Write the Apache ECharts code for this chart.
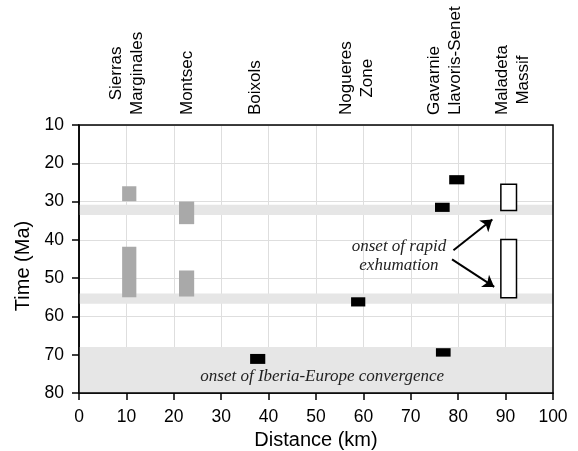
<!DOCTYPE html>
<html>
<head>
<meta charset="utf-8">
<script src="https://cdn.jsdelivr.net/npm/echarts@6/dist/echarts.min.js"></script>
<style>
html, body { margin: 0; padding: 0; background: #fff; }
#chart { width: 578px; height: 451px; }
</style>
</head>
<body>
<div id="chart"></div>
<script>
// axis ticks
var distTicks = [0, 10, 20, 30, 40, 50, 60, 70, 80, 90, 100];
var timeTicks = [10, 20, 30, 40, 50, 60, 70, 80];

// grey horizontal bands, [Ma from, Ma to]
var bands = [[30.8, 33.5], [54, 56.7], [68, 80]];

// blocks: [km from, km to, Ma from, Ma to]
var greyBlocks = [
  [9.1, 12.1, 26, 29.9],
  [9.1, 12.1, 41.8, 55],
  [21.1, 24.3, 30, 35.9],
  [21.1, 24.3, 48, 54.8]
];
var blackBlocks = [
  [36.1, 39.3, 69.8, 72.4],
  [57.4, 60.4, 55, 57.4],
  [75.1, 78.2, 30.3, 32.7],
  [75.3, 78.4, 68.3, 70.5],
  [78.1, 81.3, 23.1, 25.5]
];
var openBlocks = [
  [89, 92.3, 25.5, 32.3],
  [89, 92.3, 39.9, 55.1]
];

// arrows from the note to the open blocks
var arrows = [
  [[79, 42.7], [87.2, 34.7]],
  [[78.7, 45.1], [87.6, 52.3]]
];

// region names above the plot ('bottom' = lines start at the same point)
var regions = [
  { km: 10, lines: ['Sierras', 'Marginales'], align: 'center' },
  { km: 22.8, lines: ['Montsec'], align: 'center' },
  { km: 37.2, lines: ['Boixols'], align: 'center' },
  { km: 58.6, lines: ['Nogueres', 'Zone'], align: 'center' },
  { km: 77.1, lines: ['Gavarnie', 'Llavoris-Senet'], align: 'bottom' },
  { km: 91.5, lines: ['Maladeta', 'Massif'], align: 'center' }
];

var notes = [
  { km: 67.5, ma: 44.3, text: 'onset of rapid\nexhumation' },
  { km: 51.3, ma: 75.6, text: 'onset of Iberia-Europe convergence' }
];

var SANS = '"Liberation Sans", Arial, sans-serif';
var SERIF = '"Liberation Serif", "Times New Roman", serif';

var measureCtx = document.createElement('canvas').getContext('2d');
measureCtx.font = '17px ' + SANS;
function textWidth(s) { return measureCtx.measureText(s).width; }

function blockRender(fill, stroke) {
  return function (params, api) {
    var p0 = api.coord([api.value(0), api.value(2)]);
    var p1 = api.coord([api.value(1), api.value(3)]);
    return {
      type: 'rect',
      shape: {
        x: Math.min(p0[0], p1[0]),
        y: Math.min(p0[1], p1[1]),
        width: Math.abs(p1[0] - p0[0]),
        height: Math.abs(p1[1] - p0[1])
      },
      style: { fill: fill, stroke: stroke, lineWidth: stroke ? 1.5 : 0 }
    };
  };
}

var chart = echarts.init(document.getElementById('chart'));

var option = {
  animation: false,
  backgroundColor: '#fff',
  grid: { left: 79, right: 25, top: 125, bottom: 58, outerBoundsMode: 'none' },
  xAxis: {
    type: 'value',
    min: distTicks[0],
    max: distTicks[distTicks.length - 1],
    interval: 10,
    name: 'Distance (km)',
    nameLocation: 'middle',
    nameGap: 27,
    nameTextStyle: { fontSize: 20, color: '#000', fontFamily: SANS },
    axisLine: { lineStyle: { color: '#000', width: 1.5 } },
    axisTick: { length: 7, lineStyle: { color: '#000', width: 1.5 } },
    axisLabel: { fontSize: 17.5, color: '#000', fontFamily: SANS, margin: 15 },
    splitLine: { lineStyle: { color: '#dedede', width: 1 } }
  },
  yAxis: {
    type: 'value',
    inverse: true,
    min: timeTicks[0],
    max: timeTicks[timeTicks.length - 1],
    interval: 10,
    name: 'Time (Ma)',
    nameLocation: 'middle',
    nameGap: 41,
    nameTextStyle: { fontSize: 20, color: '#000', fontFamily: SANS, padding: [0, 14, 0, 0] },
    axisLine: { lineStyle: { color: '#000', width: 1.5 } },
    axisTick: { length: 7, lineStyle: { color: '#000', width: 1.5 } },
    axisLabel: { fontSize: 17.5, color: '#000', fontFamily: SANS, margin: 15 },
    splitLine: { lineStyle: { color: '#dedede', width: 1 } }
  },
  series: [
    {
      type: 'custom',
      name: 'bands',
      data: bands,
      z: 1,
      renderItem: function (params, api) {
        var p0 = api.coord([distTicks[0], api.value(0)]);
        var p1 = api.coord([distTicks[distTicks.length - 1], api.value(1)]);
        return {
          type: 'rect',
          shape: { x: p0[0], y: p0[1], width: p1[0] - p0[0], height: p1[1] - p0[1] },
          style: { fill: '#e6e6e6' }
        };
      }
    },
    { type: 'custom', name: 'grey', data: greyBlocks, z: 2, renderItem: blockRender('#a9a9a9', null) },
    { type: 'custom', name: 'black', data: blackBlocks, z: 2, renderItem: blockRender('#000', null) },
    { type: 'custom', name: 'open', data: openBlocks, z: 2, renderItem: blockRender('#fff', '#000') },
    {
      type: 'lines',
      coordinateSystem: 'cartesian2d',
      z: 3,
      symbol: ['none', 'arrow'],
      symbolSize: 11,
      lineStyle: { color: '#000', width: 2, opacity: 1 },
      data: arrows.map(function (a) { return { coords: a }; })
    },
    {
      type: 'custom',
      name: 'notes',
      z: 4,
      data: notes.map(function (n) { return [n.km, n.ma]; }),
      renderItem: function (params, api) {
        var p = api.coord([api.value(0), api.value(1)]);
        return {
          type: 'text',
          x: p[0],
          y: p[1],
          style: {
            text: notes[params.dataIndex].text,
            fill: '#222',
            font: 'italic 17px ' + SERIF,
            align: 'center',
            verticalAlign: 'middle',
            lineHeight: 19
          }
        };
      }
    },
    {
      type: 'custom',
      name: 'frame',
      z: 5,
      data: [[distTicks[0], timeTicks[0], distTicks[distTicks.length - 1], timeTicks[timeTicks.length - 1]]],
      renderItem: function (params, api) {
        var p0 = api.coord([api.value(0), api.value(1)]);
        var p1 = api.coord([api.value(2), api.value(3)]);
        return {
          type: 'rect',
          shape: { x: p0[0], y: p0[1], width: p1[0] - p0[0], height: p1[1] - p0[1] },
          style: { fill: 'none', stroke: '#000', lineWidth: 1.5 }
        };
      }
    },
    {
      type: 'custom',
      name: 'regions',
      z: 5,
      clip: false,
      data: regions.map(function (r) { return [r.km, timeTicks[0]]; }),
      renderItem: function (params, api) {
        var r = regions[params.dataIndex];
        var p = api.coord([api.value(0), api.value(1)]);
        var bottom = p[1] - 10;
        var maxW = Math.max.apply(null, r.lines.map(textWidth));
        var centered = r.align === 'center';
        return {
          type: 'text',
          x: p[0],
          y: centered ? bottom - maxW / 2 : bottom,
          rotation: Math.PI / 2,
          style: {
            text: r.lines.join('\n'),
            fill: '#000',
            font: '17px ' + SANS,
            align: centered ? 'center' : 'left',
            verticalAlign: 'middle',
            lineHeight: 21
          }
        };
      }
    }
  ]
};

chart.setOption(option);
</script>
</body>
</html>
